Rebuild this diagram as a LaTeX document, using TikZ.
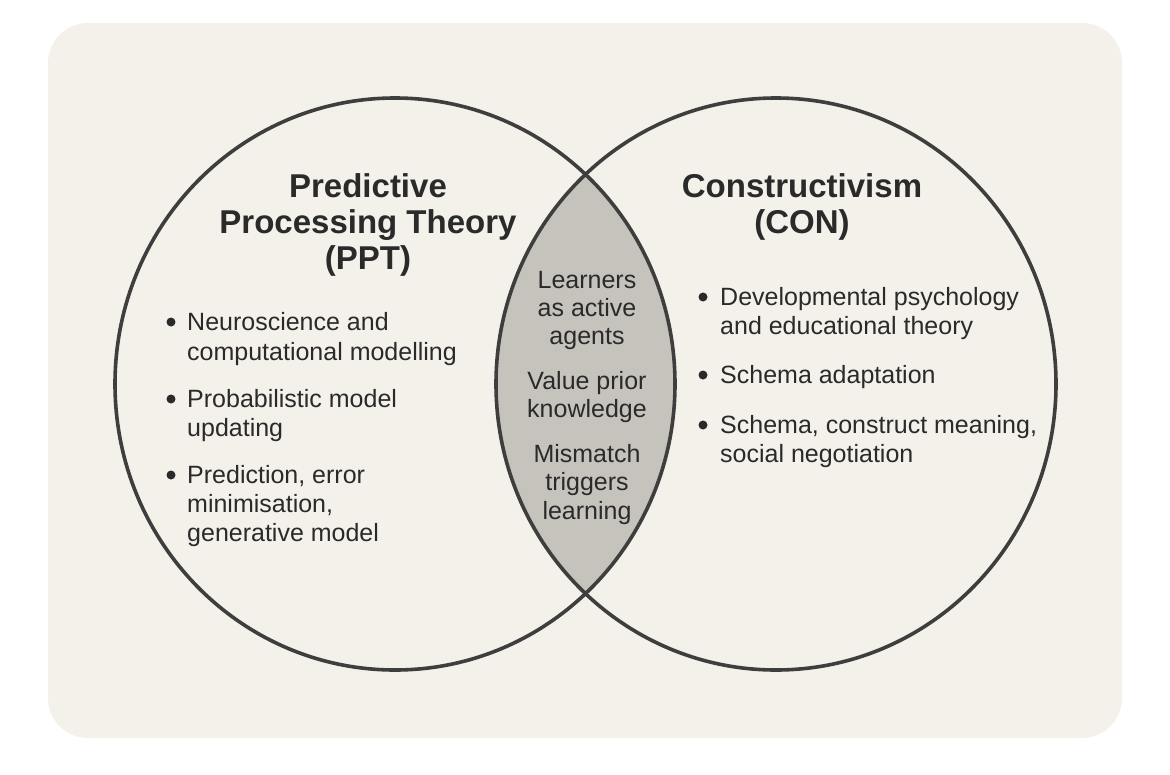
\documentclass[tikz,border=0pt]{standalone}
\usepackage{fontspec}
\setmainfont{Liberation Sans}
\definecolor{bg}{HTML}{F4F1EA}
\definecolor{ringc}{HTML}{3E3E3E}
\definecolor{lensc}{HTML}{C6C3BD}
\definecolor{txt}{HTML}{2A2A2A}
\begin{document}
\begin{tikzpicture}[x=1pt,y=-1pt,
  ring/.style={draw=ringc,line width=3.6pt},
  body/.style={font=\fontsize{25}{29}\selectfont,text=txt,anchor=base west,inner sep=0pt},
  lenstxt/.style={font=\fontsize{25}{29}\selectfont,text=txt,anchor=base,inner sep=0pt},
  ttl/.style={font=\bfseries\fontsize{33}{36}\selectfont,text=txt,anchor=base,inner sep=0pt},
  dot/.style={circle,fill=txt,inner sep=0pt,minimum size=9pt}]
\useasboundingbox (0,0) rectangle (1170,774);
\fill[white] (0,0) rectangle (1170,774);
\fill[bg, rounded corners=40pt] (48,23) rectangle (1122,738);
\begin{scope}
  \clip (395,384) ellipse [x radius=280pt, y radius=286pt];
  \fill[lensc] (776,384) ellipse [x radius=280pt, y radius=286pt];
\end{scope}
\draw[ring] (395,384) ellipse [x radius=280pt, y radius=286pt];
\draw[ring] (776,384) ellipse [x radius=280pt, y radius=286pt];

% titles
\node[ttl] (t1) at (368,197) {Predictive};
\node[ttl] (t2) at (368,233) {Processing Theory};
\node[ttl] (t3) at (368,269) {(PPT)};
\node[ttl] (c1) at (802,197) {Constructivism};
\node[ttl] (c2) at (802,233) {(CON)};

% left bullets
\node[dot] (d1) at (171,322) {};
\node[body] (l1a) at (187,330) {Neuroscience and};
\node[body] (l1b) at (187,360) {computational modelling};
\node[dot] (d2) at (171,399) {};
\node[body] (l2a) at (187,407) {Probabilistic model};
\node[body] (l2b) at (187,436) {updating};
\node[dot] (d3) at (171,475) {};
\node[body] (l3a) at (187,483) {Prediction, error};
\node[body] (l3b) at (187,512) {minimisation,};
\node[body] (l3c) at (187,541) {generative model};

% lens
\node[lenstxt] (m1) at (587,288) {Learners};
\node[lenstxt] (m2) at (587,316) {as active};
\node[lenstxt] (m3) at (587,344) {agents};
\node[lenstxt] (m4) at (587,389) {Value prior};
\node[lenstxt] (m5) at (587,417) {knowledge};
\node[lenstxt] (m6) at (587,462) {Mismatch};
\node[lenstxt] (m7) at (587,490) {triggers};
\node[lenstxt] (m8) at (587,519) {learning};

% right bullets
\node[dot] (e1) at (703,297) {};
\node[body] (r1a) at (720,305) {Developmental psychology};
\node[body] (r1b) at (720,334) {and educational theory};
\node[dot] (e2) at (703,375) {};
\node[body] (r2a) at (720,383) {Schema adaptation};
\node[dot] (e3) at (703,425) {};
\node[body] (r3a) at (720,433) {Schema, construct meaning,};
\node[body] (r3b) at (720,462) {social negotiation};
\end{tikzpicture}
\end{document}
